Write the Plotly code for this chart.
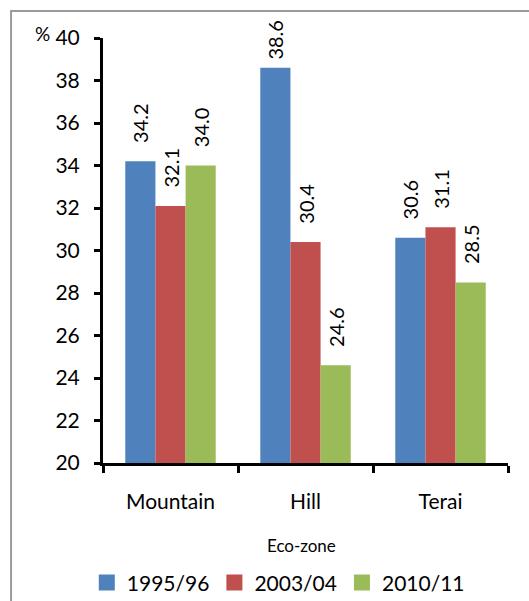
import plotly.graph_objects as go

# Eco-zone shares (%) by survey round
zones = ["Mountain", "Hill", "Terai"]
rounds = ["1995/96", "2003/04", "2010/11"]
v1995 = [34.2, 38.6, 30.6]
v2003 = [32.1, 30.4, 31.1]
v2010 = [34.0, 24.6, 28.5]
y_ticks = [20, 22, 24, 26, 28, 30, 32, 34, 36, 38, 40]

colors = ["#4F81BD", "#C0504D", "#9BBB59"]
font_family = "Lato, Open Sans, sans-serif"


def label(v):
    # leading spaces keep the rotated value labels clear of the bar tops;
    # labels close to the axis top get less room so they stay on the page
    pad = "\u00a0" * (1 if v > 37 else 3)
    return f"{pad}{v:.1f}"


fig = go.Figure()
for name, vals, col in zip(rounds, [v1995, v2003, v2010], colors):
    fig.add_trace(go.Bar(
        x=zones, y=vals, name=name, marker=dict(color=col, line=dict(width=0)),
        text=[label(v) for v in vals], textposition="outside", textangle=-90,
        textfont=dict(size=20, color="#000", family=font_family),
        constraintext="none", cliponaxis=False, showlegend=False,
    ))

# legend entries drawn with large square swatches
for name, col in zip(rounds, colors):
    fig.add_trace(go.Scatter(
        x=[None], y=[None], mode="markers", name=name,
        marker=dict(symbol="square", size=16, color=col),
    ))

fig.update_layout(
    width=529, height=601,
    margin=dict(l=103, r=21, t=38, b=138, autoexpand=False),
    paper_bgcolor="white", plot_bgcolor="white",
    barmode="group", bargap=0.33, bargroupgap=0,
    font=dict(family=font_family, color="#000"),
    showlegend=True,
    legend=dict(orientation="h", x=-0.04, xanchor="left", y=-0.282, yanchor="middle",
                font=dict(size=21, family=font_family), traceorder="normal",
                itemwidth=30),
    xaxis=dict(
        showline=True, linecolor="#000", linewidth=3,
        ticks="outside", tickson="boundaries", ticklen=7, tickwidth=3, tickcolor="#000",
        tickfont=dict(size=21, family=font_family), ticklabelstandoff=18,
    ),
    yaxis=dict(
        range=[20, 40], tickvals=y_ticks, showgrid=False, zeroline=False,
        showline=True, linecolor="#000", linewidth=3,
        ticks="outside", ticklen=6, tickwidth=3, tickcolor="#000",
        tickfont=dict(size=21, family=font_family), ticklabelstandoff=10,
    ),
    annotations=[
        dict(text="Eco-zone", xref="paper", yref="paper", x=0.49, y=-0.193,
             xanchor="center", yanchor="middle", showarrow=False,
             font=dict(size=17, family=font_family)),
        dict(text="%", xref="paper", yref="paper", x=-0.125, y=1.01,
             xanchor="right", yanchor="middle", showarrow=False,
             font=dict(size=19, family=font_family)),
    ],
    shapes=[
        dict(type="rect", xref="paper", yref="paper", x0=-0.227, y0=-0.6, x1=1.2, y1=1.0635,
             line=dict(color="#9a9a9a", width=2), layer="below"),
    ],
)

fig.write_html("out.html")
